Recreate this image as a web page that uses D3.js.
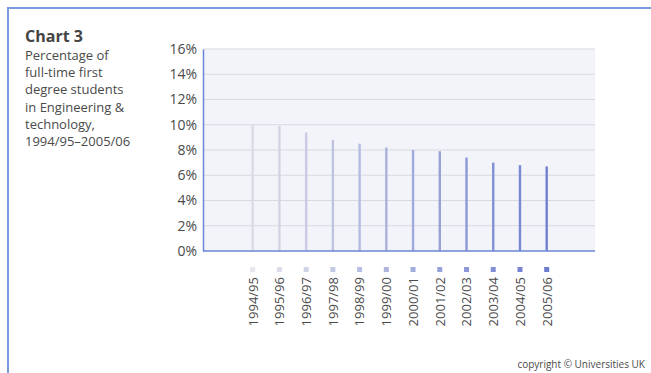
<!DOCTYPE html>
<html>
<head>
<meta charset="utf-8">
<script src="https://cdn.jsdelivr.net/npm/d3@7"></script>
<style>
  html, body { margin: 0; padding: 0; background: #ffffff; }
  svg { display: block; }
  text { font-family: "Open Sans", "Noto Sans", sans-serif; }
</style>
</head>
<body>
<svg id="chart" width="651" height="373"></svg>
<script>
// Academic years shown on the category axis
const years = ["1994/95","1995/96","1996/97","1997/98","1998/99","1999/00",
               "2000/01","2001/02","2002/03","2003/04","2004/05","2005/06"];
// Share of full-time first degree students in Engineering & technology (%)
const shares = [10.0, 9.9, 9.4, 8.8, 8.5, 8.2, 8.0, 7.9, 7.4, 7.0, 6.8, 6.7];
// Y-axis ticks (%)
const yTicks = [0, 2, 4, 6, 8, 10, 12, 14, 16];
// Caption text
const titleText = "Chart 3";
const subtitleLines = ["Percentage of", "full-time first", "degree students",
                       "in Engineering &", "technology,", "1994/95\u20132005/06"];
const creditText = "copyright \u00a9 Universities UK";

const svg = d3.select("#chart");

// Frame
svg.append("line").attr("x1", 8).attr("x2", 651).attr("y1", 8).attr("y2", 8)
  .attr("stroke", "#7d9bdc").attr("stroke-width", 2);
svg.append("line").attr("x1", 8).attr("x2", 8).attr("y1", 7).attr("y2", 373)
  .attr("stroke", "#7d9bdc").attr("stroke-width", 2);

// Caption
svg.append("text").attr("x", 25).attr("y", 41.5).text(titleText)
  .attr("font-size", 16).attr("font-weight", "bold").attr("fill", "#444");
svg.append("g").selectAll("text").data(subtitleLines).join("text")
  .attr("x", 25).attr("y", (d, i) => 60 + i * 17.2)
  .attr("font-size", 13).attr("fill", "#4a4a4a").text(d => d);

// Plot geometry
const plot = { left: 203, right: 595, top: 49, bottom: 251 };

const y = d3.scaleLinear().domain([0, 16]).range([plot.bottom, plot.top]);
const x = d3.scalePoint().domain(years).range([252.7, 546.7]);

// Background
svg.append("rect").attr("x", plot.left).attr("y", plot.top)
  .attr("width", plot.right - plot.left).attr("height", plot.bottom - plot.top)
  .attr("fill", "#f3f3fa");

// Gridlines
svg.append("g").selectAll("line").data(yTicks.filter(d => d > 0)).join("line")
  .attr("x1", plot.left).attr("x2", plot.right)
  .attr("y1", d => y(d)).attr("y2", d => y(d))
  .attr("stroke", "#d9d9e0").attr("stroke-width", 1);

// Colour ramp from pale grey to blue across years
const color = d3.scaleLinear().domain([0, years.length - 1])
  .range(["#dcdce6", "#6f80d0"]).interpolate(d3.interpolateRgb);

// Bars (thin)
svg.append("g").selectAll("rect").data(years).join("rect")
  .attr("x", d => x(d) - 1.2)
  .attr("width", 2.4)
  .attr("y", (d, i) => y(shares[i]))
  .attr("height", (d, i) => y(0) - y(shares[i]))
  .attr("fill", (d, i) => color(i));

// Axes
const yAxis = d3.axisLeft(y).tickValues(yTicks).tickSize(0).tickPadding(6)
  .tickFormat(d => d + "%");
const gy = svg.append("g").attr("transform", `translate(${plot.left},0)`).call(yAxis);
gy.select(".domain").attr("stroke", "#6b86d6").attr("stroke-width", 1.5);
gy.selectAll("text").attr("font-size", 14).attr("fill", "#4a4a4a")
  .attr("font-family", "'Open Sans', sans-serif");

svg.append("line").attr("x1", plot.left).attr("x2", plot.right)
  .attr("y1", plot.bottom).attr("y2", plot.bottom)
  .attr("stroke", "#6b86d6").attr("stroke-width", 1.5);

// Category markers and rotated labels
svg.append("g").selectAll("rect").data(years).join("rect")
  .attr("x", d => x(d) - 2.5).attr("y", 267).attr("width", 5).attr("height", 5)
  .attr("fill", (d, i) => d3.interpolateRgb("#e6e6ec", "#6a7bd0")(i / (years.length - 1)));

svg.append("g").selectAll("text").data(years).join("text")
  .attr("transform", d => `translate(${x(d) + 4.8},277) rotate(-90)`)
  .attr("text-anchor", "end")
  .attr("font-size", 13).attr("fill", "#4a4a4a").text(d => d);

// Credit
svg.append("text").attr("x", 645).attr("y", 368).attr("text-anchor", "end")
  .attr("font-size", 10).attr("fill", "#4a4a4a").text(creditText);
</script>
</body>
</html>
